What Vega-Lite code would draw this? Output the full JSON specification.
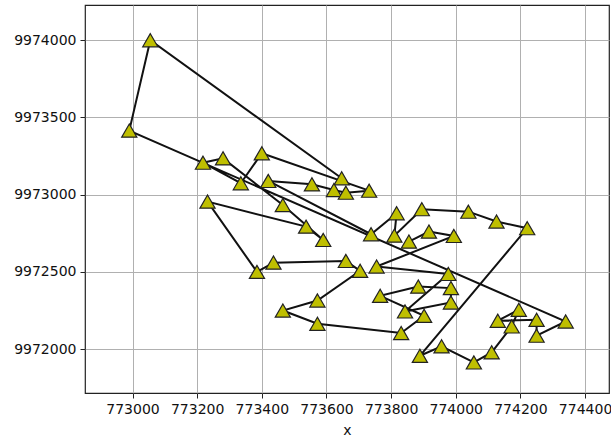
{
  "$schema": "https://vega.github.io/schema/vega-lite/v6.json",
  "width": 524,
  "height": 388,
  "autosize": "none",
  "padding": {"left": 85, "top": 5, "right": 2, "bottom": 50},
  "background": "white",
  "config": {
    "view": {"stroke": "#222", "strokeWidth": 1.2},
    "axis": {
      "labelFont": "DejaVu Sans",
      "labelFontSize": 14,
      "labelColor": "#111",
      "titleFont": "DejaVu Sans",
      "titleFontSize": 14,
      "titleFontWeight": "normal",
      "titleColor": "#111",
      "tickColor": "#222",
      "tickSize": 5,
      "domain": false,
      "gridColor": "#b0b0b0",
      "gridWidth": 1
    }
  },
  "data": {
    "values": [
      {"i": 1, "x": 773647, "y": 9973106},
      {"i": 2, "x": 773055, "y": 9974000},
      {"i": 3, "x": 772990, "y": 9973415},
      {"i": 4, "x": 774340, "y": 9972179},
      {"i": 5, "x": 774250, "y": 9972087},
      {"i": 6, "x": 774250, "y": 9972190},
      {"i": 7, "x": 774130, "y": 9972184},
      {"i": 8, "x": 774195, "y": 9972255},
      {"i": 9, "x": 774173, "y": 9972147},
      {"i": 10, "x": 774111, "y": 9971979},
      {"i": 11, "x": 774056, "y": 9971914},
      {"i": 12, "x": 773956, "y": 9972018},
      {"i": 13, "x": 773889, "y": 9971957},
      {"i": 14, "x": 774221, "y": 9972783},
      {"i": 15, "x": 774126, "y": 9972826},
      {"i": 16, "x": 774039, "y": 9972890},
      {"i": 17, "x": 773895, "y": 9972906},
      {"i": 18, "x": 773810, "y": 9972735},
      {"i": 19, "x": 773817, "y": 9972880},
      {"i": 20, "x": 773738, "y": 9972744},
      {"i": 21, "x": 773420, "y": 9973089},
      {"i": 22, "x": 773555, "y": 9973067},
      {"i": 23, "x": 773623, "y": 9973030},
      {"i": 24, "x": 773660, "y": 9973013},
      {"i": 25, "x": 773732, "y": 9973026},
      {"i": 26, "x": 773400, "y": 9973268},
      {"i": 27, "x": 773335, "y": 9973074},
      {"i": 28, "x": 773218, "y": 9973207},
      {"i": 29, "x": 773280, "y": 9973235},
      {"i": 30, "x": 773465, "y": 9972933},
      {"i": 31, "x": 773590, "y": 9972707},
      {"i": 32, "x": 773537, "y": 9972793},
      {"i": 33, "x": 773232, "y": 9972955},
      {"i": 34, "x": 773385, "y": 9972500},
      {"i": 35, "x": 773436, "y": 9972560},
      {"i": 36, "x": 773660, "y": 9972571},
      {"i": 37, "x": 773704, "y": 9972507},
      {"i": 38, "x": 773572, "y": 9972315},
      {"i": 39, "x": 773465, "y": 9972250},
      {"i": 40, "x": 773572, "y": 9972164},
      {"i": 41, "x": 773831, "y": 9972104},
      {"i": 42, "x": 773902, "y": 9972216},
      {"i": 43, "x": 773766, "y": 9972345},
      {"i": 44, "x": 773884, "y": 9972405},
      {"i": 45, "x": 773985, "y": 9972395},
      {"i": 46, "x": 773985, "y": 9972302},
      {"i": 47, "x": 773843, "y": 9972244},
      {"i": 48, "x": 773977, "y": 9972487},
      {"i": 49, "x": 773755, "y": 9972535},
      {"i": 50, "x": 773994, "y": 9972733},
      {"i": 51, "x": 773917, "y": 9972761},
      {"i": 52, "x": 773855, "y": 9972696}
    ]
  },
  "encoding": {
    "x": {
      "field": "x",
      "type": "quantitative",
      "scale": {"domain": [772853, 774474], "nice": false, "zero": false},
      "axis": {
        "title": "x",
        "values": [773000, 773200, 773400, 773600, 773800, 774000, 774200, 774400],
        "format": "d",
        "labelPadding": 4,
        "titlePadding": 7
      }
    },
    "y": {
      "field": "y",
      "type": "quantitative",
      "scale": {"domain": [9971716, 9974228], "nice": false, "zero": false},
      "axis": {
        "title": null,
        "values": [9972000, 9972500, 9973000, 9973500, 9974000],
        "format": "d",
        "labelPadding": 4
      }
    }
  },
  "layer": [
    {
      "mark": {"type": "line", "color": "#111", "strokeWidth": 2},
      "encoding": {"order": {"field": "i", "type": "quantitative"}}
    },
    {
      "mark": {
        "type": "point",
        "shape": "triangle-up",
        "filled": true,
        "fill": "#bfbf00",
        "stroke": "#222",
        "strokeWidth": 1.2,
        "opacity": 1,
        "size": 230
      }
    }
  ]
}
